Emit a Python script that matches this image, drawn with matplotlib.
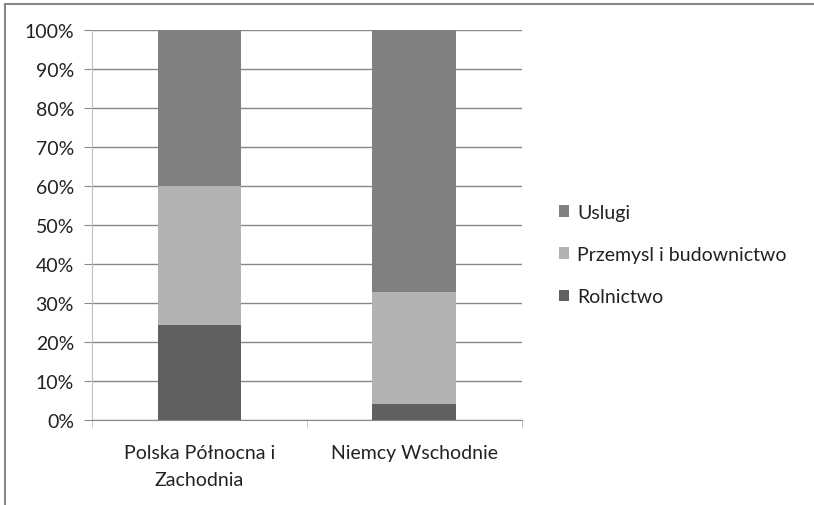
# Struktura zatrudnienia - Polska Północna i Zachodnia vs Niemcy Wschodnie
import matplotlib.pyplot as plt
from matplotlib.patches import Rectangle
from matplotlib.ticker import FixedLocator

regiony = ["Polska Północna i\nZachodnia", "Niemcy Wschodnie"]
rolnictwo = [24.4, 4.1]
przemysl = [35.6, 28.7]
uslugi = [40.0, 67.2]

plt.rcParams['font.family'] = ['Lato', 'DejaVu Sans']

fig = plt.figure(figsize=(8.14, 5.06), dpi=100)
ax = fig.add_axes([0.113, 0.168, 0.528, 0.771])

x = [0, 1]
w = 0.39
dol2 = [a + b for a, b in zip(rolnictwo, przemysl)]
ax.bar(x, rolnictwo, w, color="#606060", label="Rolnictwo", zorder=3)
ax.bar(x, przemysl, w, bottom=rolnictwo, color="#b2b2b2", label="Przemysl i budownictwo", zorder=3)
ax.bar(x, uslugi, w, bottom=dol2, color="#808080", label="Uslugi", zorder=3)

ax.set_xlim(-0.5, 1.5)
ax.set_ylim(0, 100)
ax.set_yticks(range(0, 101, 10))
ax.set_yticklabels([f"{v}%" for v in range(0, 101, 10)], fontsize=14, color="#222222")
ax.set_xticks(x)
ax.set_xticklabels(regiony, fontsize=14, color="#222222", linespacing=1.75)
ax.tick_params(axis="x", length=0, pad=17)
ax.xaxis.set_minor_locator(FixedLocator([-0.5, 0.5, 1.5]))
ax.tick_params(axis="x", which="minor", length=6, color="#bfbfbf")
ax.tick_params(axis="y", length=6, color="#888888", pad=7)
ax.grid(axis="y", color="#888888", linewidth=1, zorder=0)

for s in ["top", "right"]:
    ax.spines[s].set_visible(False)
ax.spines["left"].set_color("#bfbfbf")
ax.spines["bottom"].set_color("#888888")

h, l = ax.get_legend_handles_labels()
ax.legend(h[::-1], l[::-1], loc="center left", bbox_to_anchor=(1.045, 0.424),
          frameon=False, fontsize=14, handlelength=0.55, handleheight=0.55,
          handletextpad=0.4, labelspacing=1.3, labelcolor="#222222")

# ramka wykresu
fig.patches.append(Rectangle((0.006, -0.1), 1.2, 1.09, transform=fig.transFigure,
                             fill=False, edgecolor="#888888", linewidth=1.5))

plt.savefig("out.png")
